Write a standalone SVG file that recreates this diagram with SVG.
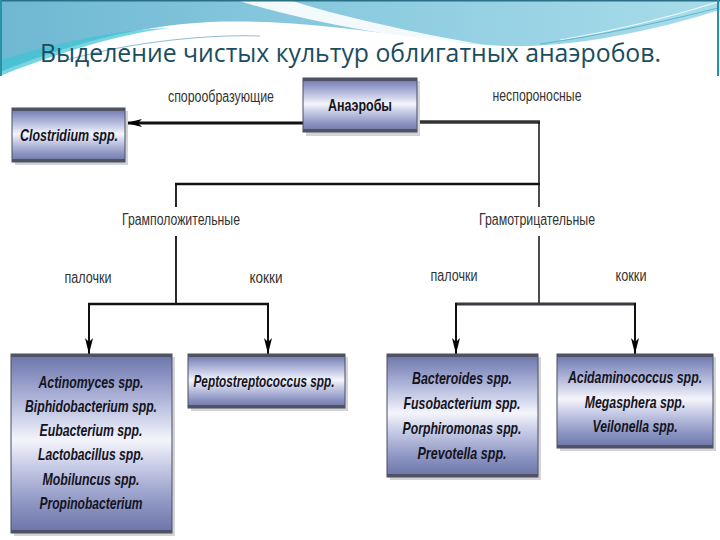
<svg xmlns="http://www.w3.org/2000/svg" width="720" height="540" viewBox="0 0 720 540">
<defs>
<linearGradient id="hdr" x1="0" y1="0" x2="1" y2="0">
<stop offset="0" stop-color="#6fb8d2"/>
<stop offset="0.5" stop-color="#8ccbe0"/>
<stop offset="1" stop-color="#a9dcea"/>
</linearGradient>
<linearGradient id="boxg" x1="0" y1="0" x2="0" y2="1">
<stop offset="0" stop-color="#6a73a6"/>
<stop offset="0.12" stop-color="#8a92c2"/>
<stop offset="0.32" stop-color="#c3c8e4"/>
<stop offset="0.48" stop-color="#f4f5fb"/>
<stop offset="0.62" stop-color="#c9cde7"/>
<stop offset="0.84" stop-color="#8c94c2"/>
<stop offset="1" stop-color="#6b74a7"/>
</linearGradient>
<marker id="arr" viewBox="0 0 16 8" refX="16" refY="4" markerWidth="16" markerHeight="8" markerUnits="userSpaceOnUse" orient="auto">
<path d="M0,0 L16,4 L0,8 L4,4 Z" fill="#000"/>
</marker>
<style>
.box{fill:url(#boxg);stroke:#4a4e60;stroke-width:1}
.bar{fill:#4e5262}
.sh{fill:#d4d4d8}
.bt{font-family:"Liberation Sans",Arial,sans-serif;font-weight:bold;font-style:italic;font-size:17px;fill:#14141e;text-anchor:middle}
.bn{font-family:"Liberation Sans",Arial,sans-serif;font-weight:bold;font-size:17px;fill:#14141e;text-anchor:middle}
.lb{font-family:"Liberation Sans",Arial,sans-serif;font-size:16px;fill:#333;text-anchor:middle}
.ln{stroke:#111;fill:none}
</style>
</defs>
<rect width="720" height="540" fill="#fff"/>
<g id="header">
<path d="M0,0 H720 V10 C650,32 570,48 505,46 C420,42 320,18 210,22 C130,26 60,48 0,72 Z" fill="url(#hdr)"/>
<path d="M0,60 C50,45 110,30 170,28 C120,34 60,52 0,76 Z" fill="#3fc4d4" opacity="0.7"/>
<path d="M236,0 C300,20 400,40 480,44 C420,34 330,14 290,0 Z" fill="#ffffff" opacity="0.9"/>
<path d="M560,40 C620,30 680,14 718,2" stroke="#ffffff" stroke-width="1.2" fill="none" opacity="0.8"/>
<path d="M540,44 C610,34 670,20 718,8" stroke="#5ab8d0" stroke-width="1" fill="none"/>
<path d="M60,62 C120,44 200,34 260,36" stroke="#8fbdd0" stroke-width="1" fill="none"/>
<rect x="0" y="0" width="720" height="1.5" fill="#2b6f86"/>
<rect x="0" y="0" width="2" height="76" fill="#2b8fa6"/>
<rect x="717" y="0" width="2" height="76" fill="#2b8fa6"/>
<text x="40" y="62" font-family="'Open Sans','Liberation Sans',sans-serif" font-size="25" fill="#1b4d5e" textLength="621" lengthAdjust="spacingAndGlyphs">Выделение чистых культур облигатных анаэробов.</text>
</g>
<g id="connectors">
<line class="ln" x1="303" y1="123" x2="126" y2="123" stroke-width="3" marker-end="url(#arr)"/>
<line x1="417" y1="122" x2="540" y2="122" stroke="#333" stroke-width="3.5"/>
<line class="ln" x1="539" y1="122" x2="539" y2="207" stroke-width="1.5"/>
<line class="ln" x1="175" y1="184" x2="540" y2="184" stroke-width="2.5"/>
<line class="ln" x1="176" y1="183" x2="176" y2="207" stroke-width="1.8"/>
<line class="ln" x1="176" y1="236" x2="176" y2="305" stroke-width="1.8"/>
<line class="ln" x1="539" y1="236" x2="539" y2="305" stroke-width="1.5"/>
<line class="ln" x1="88" y1="304" x2="269" y2="304" stroke-width="2.5"/>
<line class="ln" x1="89" y1="303" x2="89" y2="354" stroke-width="2" marker-end="url(#arr)"/>
<line class="ln" x1="268" y1="303" x2="268" y2="354" stroke-width="2" marker-end="url(#arr)"/>
<line x1="455" y1="304" x2="636" y2="304" stroke="#3a3a44" stroke-width="3"/>
<line class="ln" x1="456" y1="303" x2="456" y2="354" stroke-width="2" marker-end="url(#arr)"/>
<line class="ln" x1="635" y1="303" x2="635" y2="354" stroke-width="2" marker-end="url(#arr)"/>
</g>
<g id="labels">
<text class="lb" x="221" y="102" textLength="106" lengthAdjust="spacingAndGlyphs">спорообразующие</text>
<text class="lb" x="537" y="101" textLength="89" lengthAdjust="spacingAndGlyphs">неспороносные</text>
<text class="lb" x="181" y="225" textLength="118" lengthAdjust="spacingAndGlyphs">Грамположительные</text>
<text class="lb" x="537" y="225" textLength="116" lengthAdjust="spacingAndGlyphs">Грамотрицательные</text>
<text class="lb" x="88" y="283" textLength="47" lengthAdjust="spacingAndGlyphs">палочки</text>
<text class="lb" x="266" y="283" textLength="33" lengthAdjust="spacingAndGlyphs">кокки</text>
<text class="lb" x="454" y="281" textLength="47" lengthAdjust="spacingAndGlyphs">палочки</text>
<text class="lb" x="631" y="281" textLength="31" lengthAdjust="spacingAndGlyphs">кокки</text>
</g>
<g id="anaerobes">
<rect class="sh" x="306" y="81" width="114" height="55"/>
<rect class="box" x="303" y="78" width="114" height="54"/>
<rect class="bar" x="303" y="78" width="114" height="3"/>
<rect class="bar" x="303" y="129" width="114" height="3"/>
<text class="bn" x="360" y="111" textLength="64" lengthAdjust="spacingAndGlyphs">Анаэробы</text>
</g>
<g id="clostridium">
<rect class="sh" x="15" y="111" width="113" height="54"/>
<rect class="box" x="12" y="108" width="113" height="54"/>
<rect class="bar" x="12" y="108" width="113" height="3"/>
<rect class="bar" x="12" y="159" width="113" height="3"/>
<text class="bt" x="69" y="141" textLength="98" lengthAdjust="spacingAndGlyphs">Clostridium spp.</text>
</g>
<g id="gram-pos-rods">
<rect class="sh" x="14" y="357" width="161" height="179"/>
<rect class="box" x="11" y="354" width="161" height="179"/>
<rect class="bar" x="11" y="354" width="161" height="3"/>
<rect class="bar" x="11" y="530" width="161" height="3"/>
<text class="bt" x="91" y="388" textLength="105" lengthAdjust="spacingAndGlyphs">Actinomyces spp.</text>
<text class="bt" x="91" y="412" textLength="132" lengthAdjust="spacingAndGlyphs">Biphidobacterium spp.</text>
<text class="bt" x="91" y="436" textLength="103" lengthAdjust="spacingAndGlyphs">Eubacterium spp.</text>
<text class="bt" x="91" y="460" textLength="106" lengthAdjust="spacingAndGlyphs">Lactobacillus spp.</text>
<text class="bt" x="91" y="485" textLength="97" lengthAdjust="spacingAndGlyphs">Mobiluncus spp.</text>
<text class="bt" x="91" y="509" textLength="103" lengthAdjust="spacingAndGlyphs">Propinobacterium</text>
</g>
<g id="gram-pos-cocci">
<rect class="sh" x="191" y="357" width="157" height="54"/>
<rect class="box" x="188" y="354" width="157" height="54"/>
<rect class="bar" x="188" y="354" width="157" height="3"/>
<rect class="bar" x="188" y="405" width="157" height="3"/>
<text class="bt" x="264" y="387" textLength="141" lengthAdjust="spacingAndGlyphs">Peptostreptococcus spp.</text>
</g>
<g id="gram-neg-rods">
<rect class="sh" x="390" y="357" width="151" height="123"/>
<rect class="box" x="387" y="354" width="151" height="123"/>
<rect class="bar" x="387" y="354" width="151" height="3"/>
<rect class="bar" x="387" y="474" width="151" height="3"/>
<text class="bt" x="462" y="384" textLength="100" lengthAdjust="spacingAndGlyphs">Bacteroides spp.</text>
<text class="bt" x="462" y="409" textLength="117" lengthAdjust="spacingAndGlyphs">Fusobacterium spp.</text>
<text class="bt" x="462" y="434" textLength="119" lengthAdjust="spacingAndGlyphs">Porphiromonas spp.</text>
<text class="bt" x="462" y="459" textLength="89" lengthAdjust="spacingAndGlyphs">Prevotella spp.</text>
</g>
<g id="gram-neg-cocci">
<rect class="sh" x="560" y="357" width="156" height="94"/>
<rect class="box" x="557" y="354" width="156" height="94"/>
<rect class="bar" x="557" y="354" width="156" height="3"/>
<rect class="bar" x="557" y="445" width="156" height="3"/>
<g transform="translate(635,0) scale(0.78,1)">
<text class="bt" x="0" y="383" textLength="172" lengthAdjust="spacingAndGlyphs">Acidaminococcus spp.</text>
<text class="bt" x="0" y="408" textLength="129" lengthAdjust="spacingAndGlyphs">Megasphera spp.</text>
<text class="bt" x="0" y="432" textLength="109" lengthAdjust="spacingAndGlyphs">Veilonella spp.</text>
</g>
</g>
</svg>
